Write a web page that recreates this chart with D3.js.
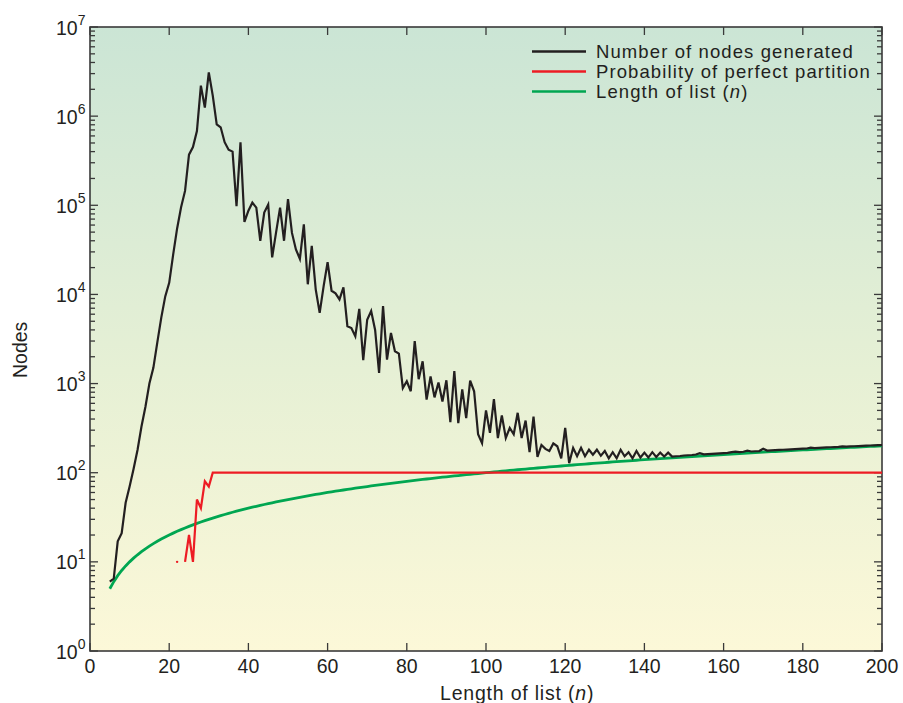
<!DOCTYPE html>
<html>
<head>
<meta charset="utf-8">
<script src="https://cdn.jsdelivr.net/npm/d3@7"></script>
<style>
  html, body { margin: 0; padding: 0; background: #fff; }
  svg { display: block; font-family: "Liberation Sans", Arial, Helvetica, sans-serif; }
</style>
</head>
<body>
<svg id="chart" width="903" height="703"></svg>
<script>
// List lengths n (x values)
const lengths = d3.range(5, 201);

// Number of nodes generated, one value per n = 5..200
const nodesGenerated = [
  6, 6.5, 17, 21, 46, 70, 110, 180, 330, 550,                 // 5-14
  1000, 1500, 2900, 5500, 9500, 13500, 28000, 55000, 95000, 145000, // 15-24
  370000, 450000, 680000, 2200000, 1250000, 3100000, 1700000, 810000, 750000, 510000, // 25-34
  420000, 400000, 98000, 510000, 65000, 87000, 107000, 94000, 40000, 83000, // 35-44
  102000, 26000, 50000, 94000, 40000, 117000, 49000, 32000, 25000, 61000, // 45-54
  13000, 35000, 11400, 6200, 12400, 23000, 11000, 10300, 8800, 12000, // 55-64
  4400, 4200, 3400, 6900, 1830, 5200, 6500, 4000, 1320, 7400, // 65-74
  1860, 3700, 2300, 2170, 890, 1060, 820, 3000, 1120, 1780, // 75-84
  660, 1200, 700, 1030, 630, 1090, 370, 1380, 360, 860, // 85-94
  410, 1080, 820, 270, 215, 500, 280, 670, 245, 440, // 95-104
  245, 318, 270, 470, 245, 385, 170, 425, 150, 205, // 105-114
  185, 175, 213, 198, 145, 318, 128, 190, 153, 190, // 115-124
  153, 181, 159, 181, 155, 175, 145, 170, 145, 181, // 125-134
  153, 170, 145, 175, 148, 168, 148, 170, 150, 168, // 135-144
  152, 168, 152, 153, 154, 156, 157, 158, 160, 166, // 145-154
  161, 162, 163, 164, 165, 166, 167, 170, 172, 170, // 155-164
  172, 177, 173, 174, 175, 186, 177, 178, 179, 180, // 165-174
  181, 182, 183, 184, 185, 186, 187, 191, 189, 190, // 175-184
  191, 192, 193, 194, 195, 197, 196, 197, 198, 199, // 185-194
  200, 201, 202, 203, 204, 204                        // 195-200
];

// Probability of perfect partition (percent); 0 means not drawn on log axis
const probLengths = [22, 23, 24, 25, 26, 27, 28, 29, 30, 31, 200];
const probValues  = [10, 0, 10, 20, 10, 50, 40, 80, 70, 100, 100];

// Length of list (n) plotted against itself
const listLength = lengths;

const xTicks = d3.range(0, 201, 20);
const yDecades = [1, 10, 100, 1000, 10000, 100000, 1000000, 10000000];

const legendItems = [
  {label: 'Number of nodes generated', color: '#231f20'},
  {label: 'Probability of perfect partition', color: '#ed1c24'},
  {label: 'Length of list', italic: 'n', color: '#00a651'},
];

const width = 903;
const height = 703;
const margin = {top: 27, right: 21, bottom: 52, left: 90};

const svg = d3.select('#chart');

const x = d3.scaleLinear().domain([0, 200]).range([margin.left, width - margin.right]);
const y = d3.scaleLog().domain([1, 1e7]).range([height - margin.bottom, margin.top]);

// Background gradient
const grad = svg.append('defs').append('linearGradient')
  .attr('id', 'bg').attr('x1', 0).attr('y1', 0).attr('x2', 0).attr('y2', 1);
grad.append('stop').attr('offset', '0%').attr('stop-color', '#cbe5d5');
grad.append('stop').attr('offset', '55%').attr('stop-color', '#e6f0d5');
grad.append('stop').attr('offset', '100%').attr('stop-color', '#fcf8d8');

svg.append('rect')
  .attr('x', x(0)).attr('y', y(1e7))
  .attr('width', x(200) - x(0)).attr('height', y(1) - y(1e7))
  .attr('fill', 'url(#bg)');

// Ticks: log minors on left and right, every 20 on top and bottom, all inward
const minorVals = [];
for (let d = 1; d < 1e7; d *= 10) {
  for (let k = 2; k <= 9; k++) minorVals.push(d * k);
}
const axisColor = '#3a3a3a';
const tickG = svg.append('g').attr('stroke', axisColor).attr('stroke-width', 1.3);
[x(0), x(200)].forEach((ax, i) => {
  const dir = i === 0 ? 1 : -1;
  tickG.selectAll(null).data(yDecades).join('line')
    .attr('x1', ax).attr('x2', ax + dir * 8)
    .attr('y1', (d) => y(d)).attr('y2', (d) => y(d));
  tickG.selectAll(null).data(minorVals).join('line')
    .attr('x1', ax).attr('x2', ax + dir * 5)
    .attr('y1', (d) => y(d)).attr('y2', (d) => y(d));
});
[y(1), y(1e7)].forEach((ay, i) => {
  const dir = i === 0 ? -1 : 1;
  tickG.selectAll(null).data(xTicks).join('line')
    .attr('x1', (d) => x(d)).attr('x2', (d) => x(d))
    .attr('y1', ay).attr('y2', ay + dir * 8);
});

// Frame
svg.append('rect')
  .attr('x', x(0)).attr('y', y(1e7))
  .attr('width', x(200) - x(0)).attr('height', y(1) - y(1e7))
  .attr('fill', 'none').attr('stroke', axisColor).attr('stroke-width', 1.6);

// Tick labels
svg.append('g').selectAll('text').data(xTicks).join('text')
  .attr('x', (d) => x(d)).attr('y', y(1) + 22)
  .attr('text-anchor', 'middle')
  .attr('font-size', 19.5).attr('fill', '#231f20')
  .text((d) => d);

const yLab = svg.append('g').selectAll('text').data(yDecades).join('text')
  .attr('x', 56).attr('y', (d) => y(d) + 7.5)
  .attr('font-size', 19.5).attr('fill', '#231f20');
yLab.append('tspan').text('10');
yLab.append('tspan').attr('dy', -10).attr('font-size', 14)
  .text((d) => Math.round(Math.log10(d)));

// Axis titles
const xTitle = svg.append('text')
  .attr('x', 440).attr('y', 700)
  .attr('font-size', 19.5).attr('letter-spacing', 0.8).attr('fill', '#231f20');
xTitle.append('tspan').text('Length of list (');
xTitle.append('tspan').attr('font-style', 'italic').text('n');
xTitle.append('tspan').text(')');

svg.append('text')
  .attr('transform', 'translate(26.5, 378) rotate(-90)')
  .attr('font-size', 19.5).attr('fill', '#231f20')
  .text('Nodes');

// Series
const plot = svg.append('g');

const line = d3.line()
  .defined((d) => d[1] > 0)
  .x((d) => x(d[0]))
  .y((d) => y(d[1]));

plot.append('path')
  .datum(d3.zip(lengths, listLength))
  .attr('fill', 'none').attr('stroke', '#00a651').attr('stroke-width', 2.8)
  .attr('d', line);

const probData = d3.zip(probLengths, probValues);
plot.append('path')
  .datum(probData)
  .attr('fill', 'none').attr('stroke', '#ed1c24').attr('stroke-width', 2.2)
  .attr('stroke-linejoin', 'miter')
  .attr('d', line);
// isolated red points (no neighbour to join)
plot.selectAll('circle').data(probData.filter((d, i) =>
  d[1] > 0 && !(probData[i - 1] && probData[i - 1][1] > 0) &&
  !(probData[i + 1] && probData[i + 1][1] > 0)))
  .join('circle')
  .attr('cx', (d) => x(d[0])).attr('cy', (d) => y(d[1]))
  .attr('r', 1.2).attr('fill', '#ed1c24');

plot.append('path')
  .datum(d3.zip(lengths, nodesGenerated))
  .attr('fill', 'none').attr('stroke', '#231f20').attr('stroke-width', 2.2)
  .attr('stroke-linejoin', 'miter')
  .attr('d', line);

// Legend
const legend = svg.append('g');
legendItems.forEach((item, i) => {
  const ly = 51.5 + i * 20;
  legend.append('line')
    .attr('x1', 532).attr('x2', 586).attr('y1', ly).attr('y2', ly)
    .attr('stroke', item.color).attr('stroke-width', 2.4);
  const t = legend.append('text')
    .attr('x', 596).attr('y', ly + 6.5)
    .attr('font-size', 18.5).attr('letter-spacing', 1.1).attr('fill', '#231f20');
  if (item.italic) {
    t.append('tspan').text(item.label + ' (');
    t.append('tspan').attr('font-style', 'italic').text(item.italic);
    t.append('tspan').text(')');
  } else {
    t.text(item.label);
  }
});
</script>
</body>
</html>
